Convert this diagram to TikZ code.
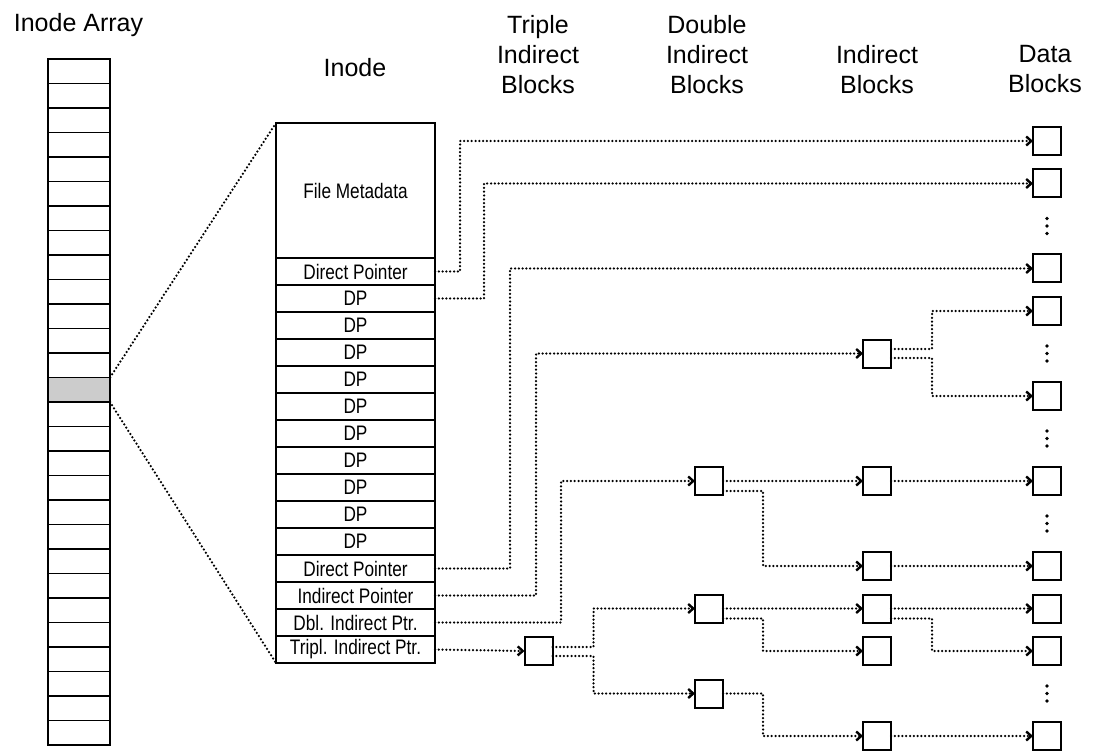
\documentclass[tikz,border=0pt]{standalone}
\usepackage{fontspec}
\setmainfont{Liberation Sans}
\newfontfamily\condf[FakeStretch=0.82]{Liberation Sans}
\usetikzlibrary{arrows.meta}
\begin{document}
\begin{tikzpicture}[x=1pt,y=-1pt,
  dotline/.style={line width=2.5pt, dash pattern=on 0pt off 3.8pt, line cap=round},
  ptr/.style={dotline, -{Straight Barb[length=5pt,width=9pt,line width=2.4pt]}},
  arrcell/.style={draw, line width=1.8pt, minimum width=62pt, minimum height=24.5pt, inner sep=0pt, outer sep=0pt},
  icell/.style={draw, line width=1.9pt, minimum width=159pt, minimum height=27pt, inner sep=0pt, outer sep=0pt, font=\condf\fontsize{21}{22}\selectfont},
  blk/.style={draw, line width=2pt, minimum size=28pt, inner sep=0pt, outer sep=0pt},
  head/.style={font=\fontsize{25}{30}\selectfont, align=center, inner sep=0pt},
]
\useasboundingbox (0,0) rectangle (1100,751);

% headers
\node[head, anchor=base] (hArr) at (78.5,32) {Inode Array};
\node[head, anchor=base] (hInode) at (355,77) {Inode};
\node[head, anchor=north] (hTI) at (538,15) {Triple\\Indirect\\Blocks};
\node[head, anchor=north] (hDI) at (707,15) {Double\\Indirect\\Blocks};
\node[head, anchor=north] (hIB) at (877,45) {Indirect\\Blocks};
\node[head, anchor=north] (hDB) at (1045,45) {Data\\Blocks};

% inode array
\foreach \i in {0,...,27}{
  \ifnum\i=13 \def\fc{gray!40}\else\def\fc{white}\fi
  \node[arrcell, fill=\fc, anchor=north west] (a\i) at (48,{59+24.5*\i}) {};
}

% inode
\node[icell, minimum height=135pt, anchor=north west] (meta) at (276,123) {File Metadata};
\foreach \t [count=\i from 0] in {Direct Pointer,DP,DP,DP,DP,DP,DP,DP,DP,DP,DP,Direct Pointer,Indirect Pointer,Dbl. Indirect Ptr.,Tripl. Indirect Ptr.}{
  \node[icell, anchor=north west] (r\i) at (276,{258+27*\i}) {\t};
}

% zoom lines
\draw[dotline] (a13.north east) -- (meta.north west);
\draw[dotline] (a13.south east) -- (r14.south west);

% blocks
\node[blk] (TI) at (538.5,651) {};
\node[blk] (DI1) at (709,481) {};
\node[blk] (DI2) at (709,608.5) {};
\node[blk] (DI3) at (709,693.5) {};
\node[blk] (I1) at (877,353.5) {};
\node[blk] (I2) at (877,481) {};
\node[blk] (I3) at (877,566) {};
\node[blk] (I4) at (877,608.5) {};
\node[blk] (I5) at (877,651) {};
\node[blk] (I6) at (877,736) {};
\foreach \n/\k in {1/0,2/1,3/3,4/4,5/6,6/8,7/10,8/11,9/12,10/14}{
  \node[blk] (D\n) at (1047,{141+42.5*\k}) {};
}

% ellipses
\foreach \k in {2,5,7,9,13}{
  \foreach \d in {-7.5,0,7.5}{
    \fill (1047,{141+42.5*\k+\d}) circle[radius=1.8pt];
  }
}

% connectors from inode
\draw[ptr] (r0.east) -- ++(25,0) |- (D1.west);
\draw[ptr] (r1.east) -- ++(49,0) |- (D2.west);
\draw[ptr] (r11.east) -- ++(75,0) |- (D3.west);
\draw[ptr] (r12.east) -- ++(101,0) |- (I1.west);
\draw[ptr] (r13.east) -- ++(126,0) |- (DI1.west);
\draw[ptr] (r14.east) -- (TI.west);

% triple indirect
\draw[ptr] ([yshift=4pt]TI.east) -- ++(41,0) |- (DI2.west);
\draw[ptr] ([yshift=-5pt]TI.east) -- ++(41,0) |- (DI3.west);

% indirect 1
\draw[ptr] ([yshift=4.5pt]I1.east) -- ++(41,0) |- (D4.west);
\draw[ptr] ([yshift=-4.5pt]I1.east) -- ++(41,0) |- (D5.west);

% double indirect
\draw[ptr] (DI1.east) -- (I2.west);
\draw[ptr] ([yshift=-10pt]DI1.east) -- ++(40,0) |- (I3.west);
\draw[ptr] (DI2.east) -- (I4.west);
\draw[ptr] ([yshift=-10pt]DI2.east) -- ++(40,0) |- (I5.west);
\draw[ptr] (DI3.east) -- ++(40,0) |- (I6.west);

% indirect to data
\draw[ptr] (I2.east) -- (D6.west);
\draw[ptr] (I3.east) -- (D7.west);
\draw[ptr] (I4.east) -- (D8.west);
\draw[ptr] ([yshift=-10pt]I4.east) -- ++(41,0) |- (D9.west);
\draw[ptr] (I6.east) -- (D10.west);
\end{tikzpicture}
\end{document}
